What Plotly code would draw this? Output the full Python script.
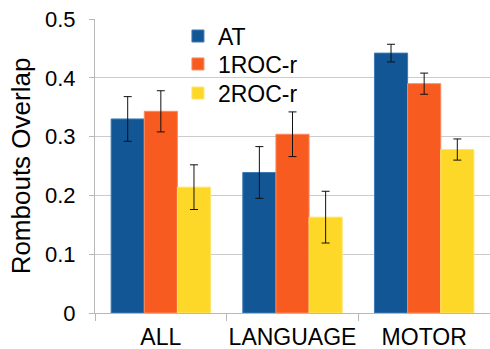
import plotly.graph_objects as go

categories = ["ALL", "LANGUAGE", "MOTOR"]
series_names = ["AT", "1ROC-r", "2ROC-r"]
at_values = [0.330, 0.239, 0.442]
at_errors = [0.038, 0.044, 0.015]
roc1_values = [0.343, 0.304, 0.390]
roc1_errors = [0.035, 0.038, 0.018]
roc2_values = [0.214, 0.163, 0.278]
roc2_errors = [0.038, 0.044, 0.018]
y_ticks = [0, 0.1, 0.2, 0.3, 0.4, 0.5]
y_tick_labels = ["0", "0.1", "0.2", "0.3", "0.4", "0.5"]

colors = ["#135696", "#F85B1F", "#FDD828"]
edge_colors = ["#3F7AB5", "#FB8A5E", "#FEE46A"]
legend_ids = ["legend", "legend2", "legend3"]
legend_y = [0.942, 0.847, 0.748]

fig = go.Figure()
for name, vals, errs, c, ec, lid in zip(series_names,
                                        [at_values, roc1_values, roc2_values],
                                        [at_errors, roc1_errors, roc2_errors],
                                        colors, edge_colors, legend_ids):
    fig.add_trace(go.Bar(
        x=categories, y=vals, name=name, legend=lid,
        marker=dict(color=c, line=dict(color=ec, width=1)),
        error_y=dict(type="data", array=errs, color="#111111", thickness=1, width=4),
    ))

legend_style = dict(x=0.21, xanchor="left", yanchor="middle",
                    font=dict(size=23), bgcolor="rgba(0,0,0,0)", itemwidth=30)

fig.update_layout(
    width=490, height=349,
    margin=dict(l=95, r=0, t=19, b=36, autoexpand=False),
    paper_bgcolor="white", plot_bgcolor="white",
    barmode="group", bargap=0.245, bargroupgap=0,
    font=dict(family="Liberation Sans, Arial, sans-serif", color="#000000"),
    showlegend=True,
    legend=dict(y=legend_y[0], **legend_style),
    legend2=dict(y=legend_y[1], **legend_style),
    legend3=dict(y=legend_y[2], **legend_style),
)
fig.update_xaxes(
    automargin=False, tickangle=0,
    showline=True, linecolor="#B8B8B8", linewidth=1,
    ticks="outside", tickson="boundaries", ticklen=7, tickcolor="#B8B8B8",
    tickfont=dict(size=23), ticklabelstandoff=3, showgrid=False,
)
fig.update_yaxes(
    automargin=False,
    range=[0, 0.5], tickvals=y_ticks, ticktext=y_tick_labels,
    showline=True, linecolor="#B8B8B8", linewidth=1,
    ticks="outside", ticklen=5, tickcolor="#B8B8B8",
    showgrid=True, gridcolor="#CCCCCC", gridwidth=1,
    tickfont=dict(size=22), ticklabelstandoff=9,
    title=dict(text="Rombouts Overlap", font=dict(size=26), standoff=6),
    zeroline=False,
)

fig.write_html("out.html", config={"displayModeBar": False},
               post_script="document.body.style.margin='0';")
